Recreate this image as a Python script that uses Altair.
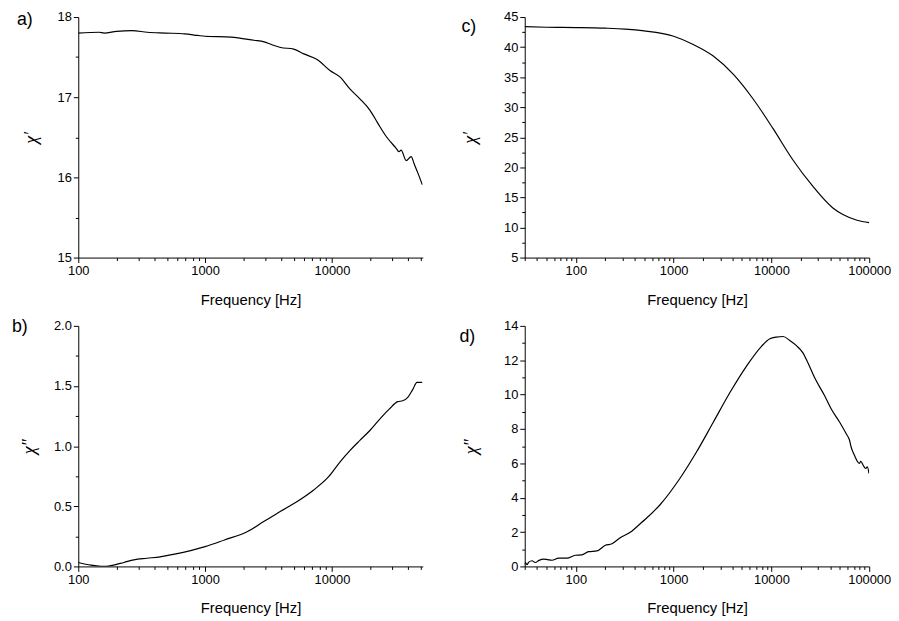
import altair as alt
import pandas as pd

# ---- data ----
a_freq = [100, 146, 160, 200, 265, 350, 485, 690, 876, 1000, 1600, 2430, 2920, 3290, 3940, 5000, 6000, 7640,
          9700, 11600, 13900, 16600, 19900, 23100, 26800, 32200, 33800, 35100, 38500, 42100, 44700, 47700, 51500]
a_chi1 = [17.80, 17.81, 17.80, 17.82, 17.83, 17.81, 17.80, 17.79, 17.77, 17.76, 17.75, 17.71, 17.69, 17.66,
          17.62, 17.60, 17.54, 17.47, 17.33, 17.25, 17.10, 16.98, 16.84, 16.67, 16.51, 16.36, 16.32, 16.34,
          16.21, 16.26, 16.16, 16.05, 15.91]

b_freq = [100, 126, 160, 180, 229, 274, 347, 442, 562, 783, 1000, 1420, 2160, 2920, 3940, 5320, 7180, 9420,
          11600, 13900, 16600, 19900, 24500, 28400, 33000, 36100, 39600, 43300, 46800, 51500]
b_chi2 = [0.033, 0.011, 0.0, 0.006, 0.033, 0.055, 0.068, 0.08, 0.10, 0.134, 0.165, 0.22, 0.29, 0.376, 0.458,
          0.54, 0.636, 0.746, 0.87, 0.965, 1.048, 1.13, 1.24, 1.31, 1.37, 1.377, 1.405, 1.47, 1.53, 1.53]

c_freq = [30, 50, 100, 200, 320, 500, 1000, 1588, 2542, 4064, 6500, 10400, 16600, 26600, 42500, 53800,
          75000, 100000]
c_chi1 = [43.4, 43.3, 43.25, 43.15, 43.0, 42.7, 41.8, 40.43, 38.52, 35.5, 31.37, 26.43, 21.22, 16.82, 13.24,
          12.15, 11.2, 10.8]

d_freq = [29.3, 30.4, 31.6, 33, 35.6, 38.5, 42, 46.8, 51, 56.9, 66.6, 81, 98.6, 115, 134.8, 164, 200, 234,
          284, 373, 437, 510, 726, 1162, 1718, 2542, 3764, 5565, 7910, 9630, 11250, 13160, 15400, 18000,
          21000, 23600, 27600, 35000, 40900, 49900, 58200, 63000, 65300, 70600, 76200, 79000, 82000, 86700,
          92100, 95700, 99400]
d_chi2 = [0.04, 0.23, 0.10, 0.25, 0.33, 0.23, 0.35, 0.42, 0.40, 0.36, 0.48, 0.48, 0.65, 0.67, 0.86, 0.90,
          1.23, 1.32, 1.67, 2.05, 2.40, 2.73, 3.59, 5.13, 6.67, 8.39, 10.12, 11.66, 12.81, 13.25, 13.35,
          13.38, 13.15, 12.85, 12.43, 11.85, 10.99, 9.93, 9.16, 8.39, 7.72, 7.33, 6.95, 6.47, 6.09, 5.99,
          6.12, 5.89, 5.70, 5.80, 5.42]

x_ticks_ab = [100, 200, 300, 400, 500, 600, 700, 800, 900, 1000, 2000, 3000, 4000, 5000, 6000, 7000, 8000,
              9000, 10000, 20000, 30000, 40000, 50000]
x_ticks_cd = [30, 40, 50, 60, 70, 80, 90] + x_ticks_ab + [60000, 70000, 80000, 90000, 100000]

FONT = "Liberation Sans"
W, H = 348, 243
MAJOR_X = "indexof([100,1000,10000,100000], datum.value) >= 0"


def x_axis(values):
    return alt.Axis(
        values=values,
        labelExpr=f"{MAJOR_X} ? format(datum.value, 'd') : ''",
        tickSize={"condition": {"test": MAJOR_X, "value": 5}, "value": 3},
        labelOverlap=False, labelFlush=False, labelPadding=2,
        title="Frequency [Hz]", titlePadding=15, grid=False,
    )


def y_axis(values, major_test, fmt, title, tpad):
    return alt.Axis(
        values=values,
        labelExpr=f"{major_test} ? format(datum.value, '{fmt}') : ''",
        tickSize={"condition": {"test": major_test, "value": 5}, "value": 3},
        labelOverlap=False, labelFlush=False, labelPadding=2,
        title=title, titlePadding=tpad, grid=False,
        titleFont="Liberation Serif", titleFontStyle="italic", titleFontSize=18,
    )


def panel(freq, vals, xdom, xvals, ydom, yvals, major_test, fmt, ytitle, tpad, label, ldx, ldy):
    df = pd.DataFrame({"f": freq, "v": vals})
    return alt.Chart(df).mark_line(color="black", strokeWidth=1.2, interpolate="monotone", clip=True).encode(
        x=alt.X("f:Q", scale=alt.Scale(type="log", domain=xdom, nice=False), axis=x_axis(xvals)),
        y=alt.Y("v:Q", scale=alt.Scale(domain=ydom, nice=False, zero=False),
                axis=y_axis(yvals, major_test, fmt, ytitle, tpad)),
    ).properties(
        width=W, height=H,
        title=alt.TitleParams(label, anchor="start", frame="group", orient="top", baseline="top",
                              offset=0, dx=ldx, dy=ldy, fontSize=18, font=FONT, fontWeight="normal",
                              color="black"),
    )


pa = panel(a_freq, a_chi1, [100, 52000], x_ticks_ab, [15, 18], [15 + 0.5 * i for i in range(7)],
           "datum.value % 1 == 0", "d", "χ′", 17, "a)", -62, 18)
pc = panel(c_freq, c_chi1, [30, 100000], x_ticks_cd, [5, 45], [5 + 2.5 * i for i in range(17)],
           "datum.value % 5 == 0", "d", "χ′", 24, "c)", -64, 25)
pb = panel(b_freq, b_chi2, [100, 52000], x_ticks_ab, [0, 2], [0.25 * i for i in range(9)],
           "(datum.value * 2) % 1 == 0", ".1f", "χ″", 15, "b)", -67, 16)
pd_ = panel(d_freq, d_chi2, [30, 100000], x_ticks_cd, [0, 14], list(range(15)),
            "datum.value % 2 == 0", "d", "χ″", 23, "d)", -66, 26)

chart = alt.concat(pa, pc, pb, pd_, columns=2, spacing={"row": 69, "column": 103}, bounds="flush").properties(
    padding={"left": 4, "top": 0, "right": 0, "bottom": 0}
).configure_view(stroke=None).configure_axis(
    domainColor="black", domainWidth=1, tickColor="black", tickWidth=1,
    labelFont=FONT, labelFontSize=13, labelColor="black",
    titleFont=FONT, titleFontSize=15, titleFontWeight="normal", titleColor="black",
)

chart.save("out.html", embed_options={"renderer": "svg", "actions": False})
